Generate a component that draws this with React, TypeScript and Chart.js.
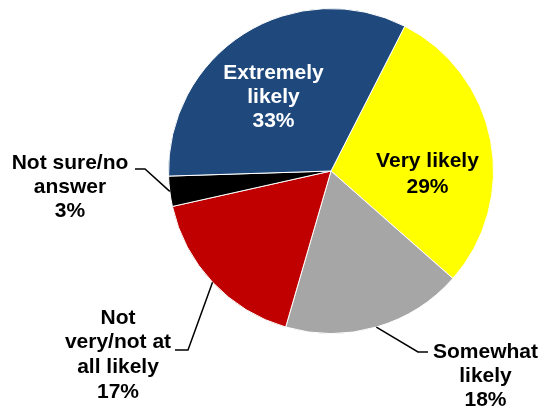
import React, { useEffect, useRef } from "react";
import { Chart, registerables } from "chart.js";

Chart.register(...registerables);

const categories = ["Very likely", "Somewhat likely", "Not very/not at all likely", "Not sure/no answer", "Extremely likely"];
const values = [29, 18, 17, 3, 33];
const labelLines = [
  ["Very likely", "29%"],
  ["Somewhat", "likely", "18%"],
  ["Not", "very/not at", "all likely", "17%"],
  ["Not sure/no", "answer", "3%"],
  ["Extremely", "likely", "33%"],
];
const colors = ["#FFFF00", "#A6A6A6", "#C00000", "#000000", "#1F497D"];
const textColors = ["#000000", "#000000", "#000000", "#000000", "#FFFFFF"];

// label layout, pixel offsets relative to pie centre
type Lay = {
  tx: number; // text centre x offset
  base: number[]; // baselines y offsets
  elbow?: [number, number];
  hEnd?: number;
};
const layout: Lay[] = [
  { tx: 96.5, base: [-4.5, 21.5] },
  { tx: 154.5, base: [187, 211, 235], elbow: [87, 181], hEnd: 97 },
  { tx: -213, base: [153, 177, 201.5, 226.5], elbow: [-143, 179], hEnd: -156 },
  { tx: -261, base: [-2.5, 21.5, 46], elbow: [-186, -2], hEnd: -196 },
  { tx: -57.5, base: [-92, -68, -44.5] },
];

const labelPlugin = {
  id: "pieLabels",
  afterDatasetsDraw(chart: any) {
    const ctx = chart.ctx;
    const meta = chart.getDatasetMeta(0);
    const arc0 = meta.data[0] as any;
    const cx = arc0.x;
    const cy = arc0.y;
    const r = arc0.outerRadius;
    ctx.save();
    meta.data.forEach((arc: any, i: number) => {
      const lay = layout[i];
      if (lay.elbow) {
        const mid = (arc.startAngle + arc.endAngle) / 2;
        const ex = cx + Math.cos(mid) * r;
        const ey = cy + Math.sin(mid) * r;
        const bx = cx + lay.elbow[0];
        const by = cy + lay.elbow[1];
        ctx.beginPath();
        ctx.moveTo(ex, ey);
        ctx.lineTo(bx, by);
        ctx.lineTo(cx + (lay.hEnd as number), by);
        ctx.strokeStyle = "#000";
        ctx.lineWidth = 1.5;
        ctx.stroke();
      }
      ctx.font = "bold 21px 'Liberation Sans', Arial, sans-serif";
      ctx.fillStyle = textColors[i];
      ctx.textAlign = "center";
      ctx.textBaseline = "alphabetic";
      labelLines[i].forEach((line, j) => {
        ctx.fillText(line, cx + lay.tx, cy + lay.base[j]);
      });
    });
    ctx.restore();
  },
};

export default function App() {
  const ref = useRef<HTMLCanvasElement>(null);
  useEffect(() => {
    if (!ref.current) return;
    const chart = new Chart(ref.current, {
      type: "pie",
      data: {
        labels: categories,
        datasets: [
          {
            data: values,
            backgroundColor: colors,
            borderColor: "#FFFFFF",
            borderWidth: 1,
          },
        ],
      },
      options: {
        animation: false,
        responsive: false,
        rotation: 27,
        layout: { padding: { left: 168, right: 49, top: 8, bottom: 74 } },
        plugins: {
          legend: { display: false },
          tooltip: { enabled: false },
        },
      },
      plugins: [labelPlugin],
    });
    return () => chart.destroy();
  }, []);
  return (
    <div style={{ position: "fixed", left: 0, top: 0, width: 543, height: 408, background: "#fff" }}>
      <canvas ref={ref} width={543} height={408} style={{ width: 543, height: 408 }} />
    </div>
  );
}
